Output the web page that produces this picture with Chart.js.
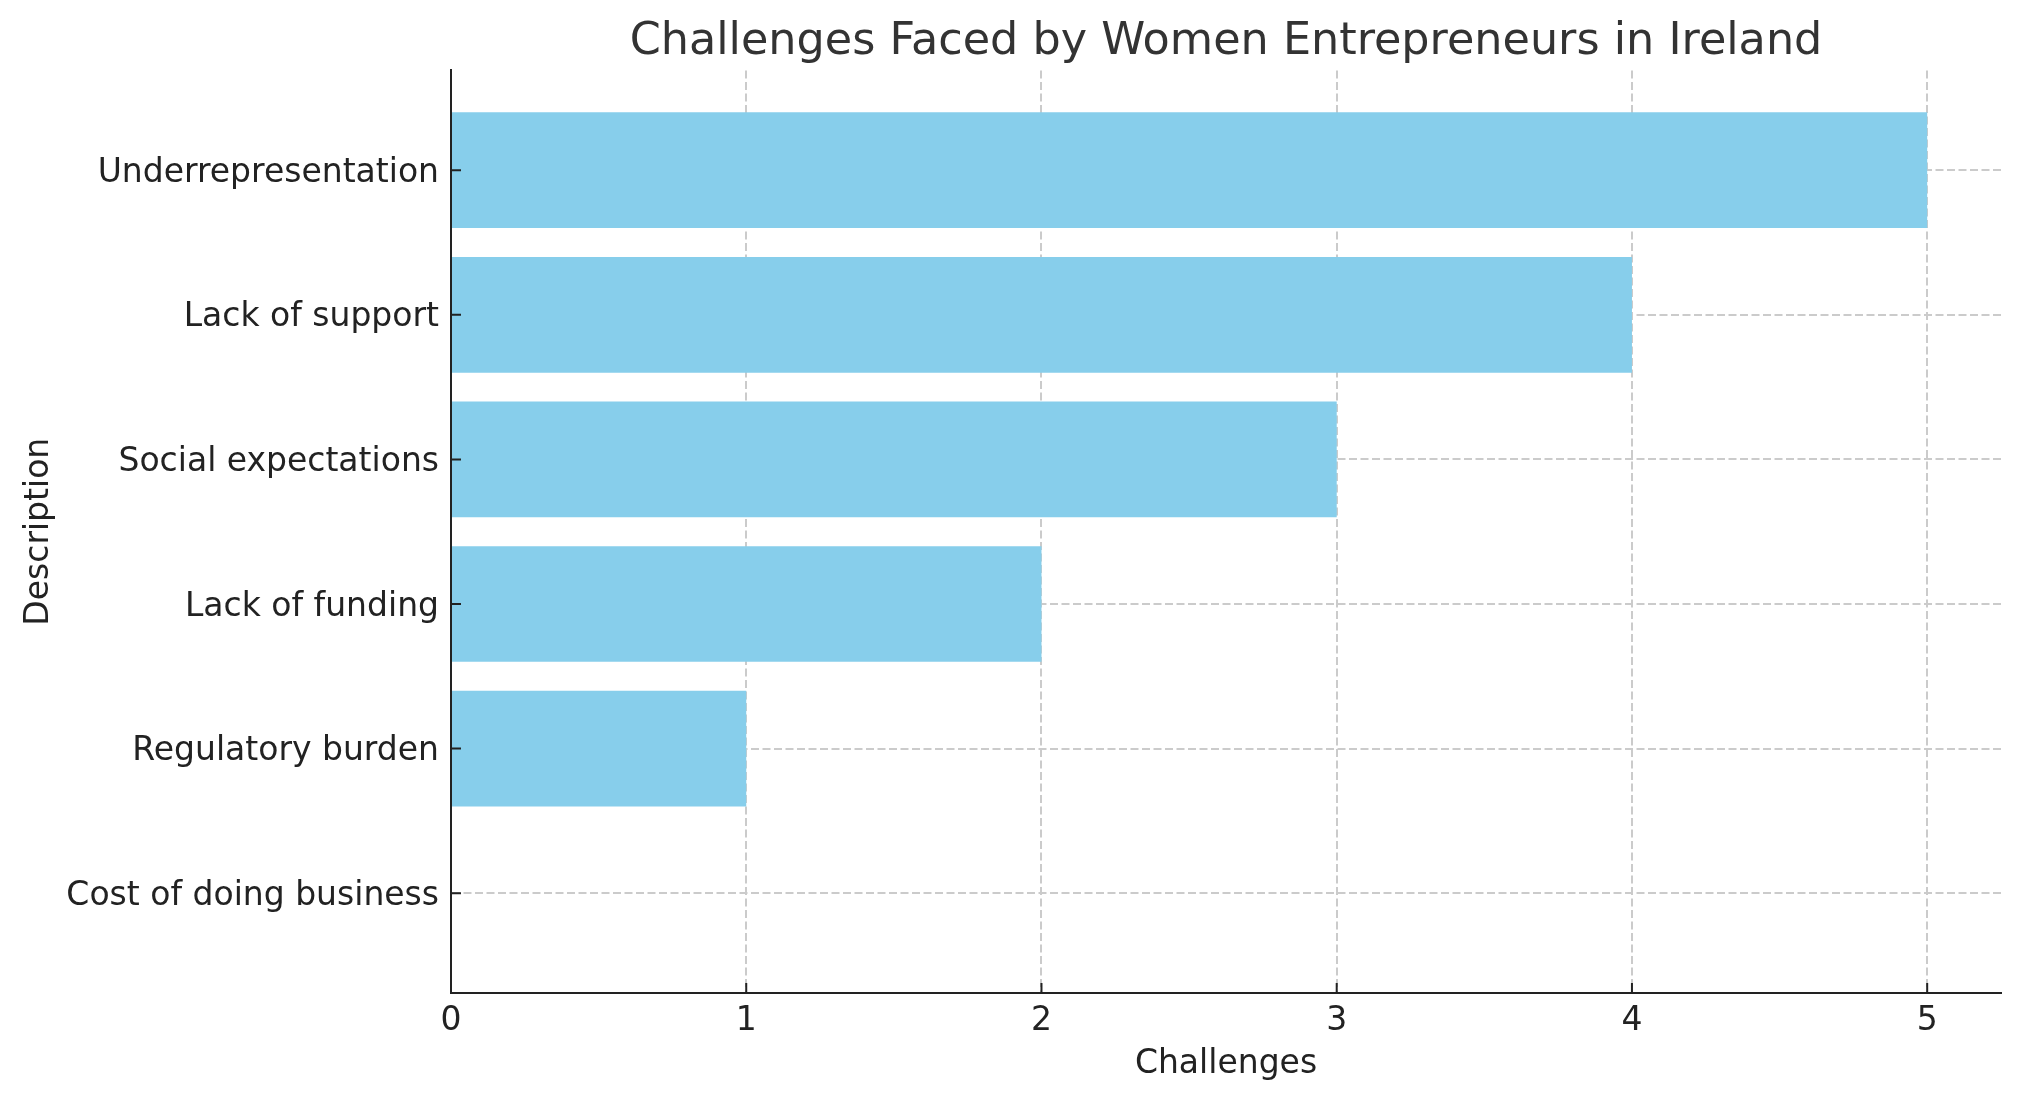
<!DOCTYPE html>
<html>
<head>
<meta charset="utf-8">
<script src="https://cdn.jsdelivr.net/npm/chart.js@4"></script>
<style>
  html, body { margin: 0; padding: 0; background: #ffffff; }
  #chart { display: block; }
</style>
</head>
<body>
<canvas id="chart" width="2020" height="1101"></canvas>
<script>
// categories from bottom (index 0) to top
var categories = [
  "Cost of doing business",
  "Regulatory burden",
  "Lack of funding",
  "Social expectations",
  "Lack of support",
  "Underrepresentation"
];
var challengeCounts = [0, 1, 2, 3, 4, 5];
var xTicks = [0, 1, 2, 3, 4, 5];

var FONT = "'DejaVu Sans', sans-serif";
var gridColor = "#cbcbcb";
var spineColor = "#222222";

// matplotlib-style inward tick marks
var innerTicks = {
  id: "innerTicks",
  afterDraw: function (chart) {
    var ctx = chart.ctx;
    var area = chart.chartArea;
    var x = chart.scales.x, y = chart.scales.y;
    ctx.save();
    ctx.strokeStyle = spineColor;
    ctx.lineWidth = 2;
    ctx.beginPath();
    x.ticks.forEach(function (t) {
      var px = x.getPixelForValue(t.value);
      ctx.moveTo(px, area.bottom);
      ctx.lineTo(px, area.bottom - 10);
    });
    y.ticks.forEach(function (t) {
      var py = y.getPixelForValue(t.value);
      ctx.moveTo(area.left, py);
      ctx.lineTo(area.left + 10, py);
    });
    ctx.stroke();
    ctx.restore();
  }
};

new Chart(document.getElementById("chart").getContext("2d"), {
  type: "bar",
  data: {
    datasets: [
      {
        data: categories.map(function (c, i) { return { x: challengeCounts[i], y: i }; }),
        backgroundColor: "#87ceeb",
        borderWidth: 0,
        barPercentage: 0.8,
        categoryPercentage: 1.0
      }
    ]
  },
  options: {
    indexAxis: "y",
    responsive: false,
    animation: false,
    devicePixelRatio: 1,
    layout: { padding: { left: 0, right: 19, top: 0, bottom: 0 } },
    plugins: {
      legend: { display: false },
      tooltip: { enabled: false },
      title: {
        display: true,
        fullSize: false,
        text: "Challenges Faced by Women Entrepreneurs in Ireland",
        color: "#333333",
        font: { family: FONT, size: 44.5, weight: "normal", lineHeight: 1.2 },
        padding: { top: 16, bottom: 1 }
      }
    },
    scales: {
      x: {
        type: "linear",
        min: 0,
        max: 5.25,
        z: 1,
        afterBuildTicks: function (s) {
          s.ticks = xTicks.map(function (v) { return { value: v }; });
        },
        afterFit: function (s) { s.height = 1101 - 993; },
        grid: {
          color: gridColor,
          lineWidth: 2,
          drawTicks: false,
          offset: false
        },
        border: { display: true, color: spineColor, width: 2, dash: [8, 3.5] },
        ticks: {
          color: "#222222",
          padding: 9,
          font: { family: FONT, size: 33 }
        },
        title: {
          display: true,
          text: "Challenges",
          color: "#222222",
          font: { family: FONT, size: 33, lineHeight: 1.2 },
          padding: { top: 0, bottom: 17 }
        }
      },
      y: {
        type: "linear",
        min: -0.69,
        max: 5.69,
        offset: false,
        z: 1,
        afterBuildTicks: function (s) {
          s.ticks = categories.map(function (c, i) { return { value: i }; });
        },
        afterFit: function (s) { s.width = 451; },
        grid: {
          color: gridColor,
          lineWidth: 2,
          drawTicks: false,
          offset: false
        },
        border: { display: true, color: spineColor, width: 2, dash: [8, 3.5] },
        ticks: {
          color: "#222222",
          padding: 12,
          labelOffset: 3,
          font: { family: FONT, size: 33 },
          callback: function (value) { return categories[value]; }
        },
        title: {
          display: true,
          text: "Description",
          color: "#222222",
          font: { family: FONT, size: 33, lineHeight: 1.2 },
          padding: { top: 20, bottom: 0 }
        }
      }
    }
  },
  plugins: [innerTicks]
});
</script>
</body>
</html>
